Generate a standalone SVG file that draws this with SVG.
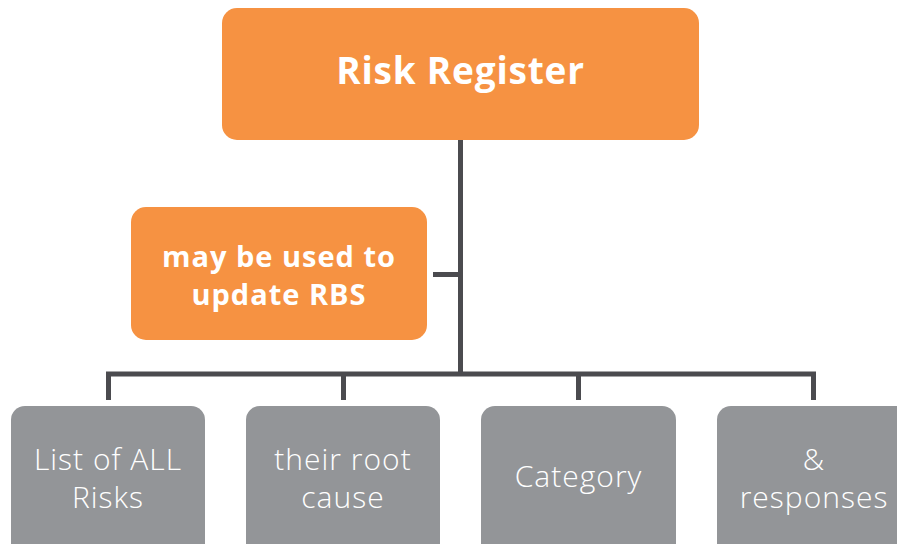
<svg xmlns="http://www.w3.org/2000/svg" width="897" height="544" viewBox="0 0 897 544">
<style>
.orange{fill:#F69242}
.gray{fill:#939598}
.conn{stroke:#4B4B4F;stroke-width:5;fill:none}
.tb{font-family:"Open Sans",Lato,"Liberation Sans",sans-serif;font-weight:700;fill:#fff;text-anchor:middle}
.tl{font-family:"Open Sans",Lato,"Liberation Sans",sans-serif;font-weight:300;fill:#fff;text-anchor:middle;font-size:30px;letter-spacing:1px}
</style>
<rect width="897" height="544" fill="#fff"/>
<g id="connectors">
<path class="conn" d="M460.5 140 V374"/>
<path class="conn" d="M433 274.5 H460.5"/>
<path class="conn" d="M106 374 H816"/>
<path class="conn" d="M108.5 372 V400 M343.5 372 V400 M578.5 372 V400 M813.5 372 V400"/>
</g>
<g id="risk-register">
<rect class="orange" x="222" y="8" width="477" height="132" rx="15"/>
<text class="tb" x="460.5" y="84" font-size="37" letter-spacing="0.8">Risk Register</text>
</g>
<g id="update-rbs">
<rect class="orange" x="131" y="207" width="296" height="133" rx="15"/>
<text class="tb" x="279" y="267" font-size="29" letter-spacing="1">may be used to</text>
<text class="tb" x="279" y="305" font-size="29" letter-spacing="1">update RBS</text>
</g>
<g id="list-risks">
<rect class="gray" x="11" y="406" width="194" height="160" rx="14"/>
<text class="tl" x="108" y="470">List of ALL</text>
<text class="tl" x="108" y="508">Risks</text>
</g>
<g id="root-cause">
<rect class="gray" x="246" y="406" width="194" height="160" rx="14"/>
<text class="tl" x="343" y="470">their root</text>
<text class="tl" x="343" y="508">cause</text>
</g>
<g id="category">
<rect class="gray" x="481" y="406" width="195" height="160" rx="14"/>
<text class="tl" x="578.5" y="487">Category</text>
</g>
<g id="responses">
<rect class="gray" x="717" y="406" width="195" height="160" rx="14"/>
<text class="tl" x="814" y="470">&amp;</text>
<text class="tl" x="814" y="508">responses</text>
</g>
</svg>
